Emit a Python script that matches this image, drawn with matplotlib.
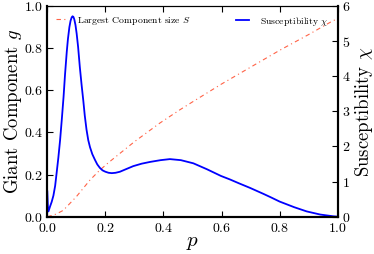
import matplotlib
matplotlib.use("Agg")
import matplotlib.pyplot as plt

plt.rcParams["font.family"] = "serif"
plt.rcParams["font.serif"] = ["cmr10"]
plt.rcParams["mathtext.fontset"] = "cm"
plt.rcParams["axes.formatter.use_mathtext"] = True

# largest component size S (left axis)
p_s = [0.0, 0.009, 0.03, 0.055, 0.10, 0.147, 0.18, 0.21, 0.30, 0.388, 0.457,
       0.50, 0.60, 0.70, 0.80, 0.90, 0.983, 1.0]
size_s = [0.0, 0.003, 0.012, 0.03, 0.095, 0.174, 0.22, 0.256, 0.356, 0.445,
          0.508, 0.545, 0.63, 0.71, 0.79, 0.865, 0.93, 0.94]

# susceptibility chi (right axis)
p_chi = [0.0, 0.002, 0.004, 0.009, 0.015, 0.021, 0.027, 0.032, 0.038, 0.044,
         0.050, 0.056, 0.061, 0.067, 0.071, 0.076, 0.080, 0.084, 0.087, 0.090,
         0.093, 0.097, 0.101, 0.106, 0.112, 0.118, 0.124, 0.129, 0.135, 0.141,
         0.147, 0.155, 0.164, 0.172, 0.181, 0.19, 0.20, 0.211, 0.222, 0.235,
         0.25, 0.27, 0.296, 0.325, 0.354, 0.39, 0.422, 0.46, 0.503, 0.55,
         0.598, 0.629, 0.66, 0.698, 0.744, 0.77, 0.80, 0.85, 0.893, 0.94,
         0.985, 1.0]
chi = [0.72, 0.30, 0.15, 0.28, 0.42, 0.60, 0.88, 1.24, 1.68, 2.18,
       2.78, 3.42, 4.05, 4.70, 5.06, 5.40, 5.58, 5.68, 5.71, 5.69,
       5.62, 5.46, 5.22, 4.84, 4.26, 3.76, 3.30, 2.88, 2.48, 2.18,
       1.98, 1.78, 1.62, 1.49, 1.39, 1.32, 1.28, 1.25, 1.24, 1.25,
       1.28, 1.35, 1.44, 1.51, 1.56, 1.61, 1.64, 1.61, 1.52, 1.35,
       1.16, 1.06, 0.95, 0.82, 0.65, 0.55, 0.43, 0.27, 0.15, 0.06,
       0.01, 0.0]

fig = plt.figure(figsize=(3.74, 2.54), dpi=100)
ax = fig.add_axes([0.1265, 0.147, 0.7765, 0.829])
ax2 = ax.twinx()

ax.plot(p_s, size_s, color="tomato", lw=0.8, dashes=(4, 3, 1, 3),
        label="Largest Component size $S$")
ax2.plot(p_chi, chi, color="blue", lw=1.3, label=r"Susceptibility $\chi$")

ax.set_xlim(0, 1)
ax.set_ylim(0, 1)
ax2.set_ylim(0, 6)
ax.set_xticks([0.0, 0.2, 0.4, 0.6, 0.8, 1.0])
ax.set_yticks([0.0, 0.2, 0.4, 0.6, 0.8, 1.0])
ax2.set_yticks([0, 1, 2, 3, 4, 5, 6])

ax.tick_params(axis="x", direction="in", top=True, labelsize=10, length=4, pad=4)
ax.tick_params(axis="y", direction="in", labelsize=10, length=4, pad=3)
ax2.tick_params(axis="y", direction="in", labelsize=10, length=4, pad=3)

for a in (ax, ax2):
    for side in ("left", "bottom", "right"):
        a.spines[side].set_linewidth(1.5)
    a.spines["top"].set_linewidth(0.8)

ax.set_xlabel("$p$", fontsize=15, labelpad=-1)
ax.set_ylabel("Giant Component $g$", fontsize=13.5, labelpad=0)
ax2.set_ylabel(r"Susceptibility $\chi$", fontsize=13.5, labelpad=2)

ax.legend(loc="upper left", frameon=False, fontsize=7, handlelength=1.2,
          handletextpad=1.0)
ax2.legend(loc="upper right", frameon=False, fontsize=7, handlelength=1.3,
           handletextpad=1.2)

fig.savefig("out.png", dpi=100)
